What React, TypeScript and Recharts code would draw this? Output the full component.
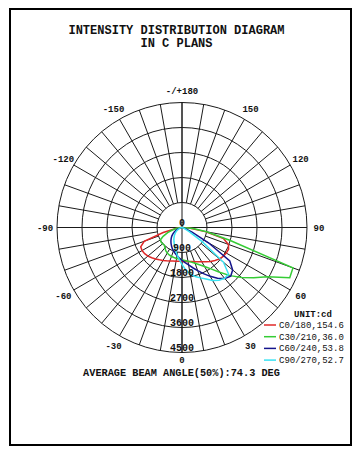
import React from 'react';
import { RadarChart, Radar, PolarGrid, PolarAngleAxis, PolarRadiusAxis, Legend } from 'recharts';

// gamma angles (deg) for the lower half of the diagram, 0 = straight down
const gammaAngles = [
  -90, -85, -80, -75, -70, -65, -60, -55, -50, -45, -40, -35, -30, -25, -20, -15, -10, -5,
  0, 5, 10, 15, 20, 25, 30, 35, 40, 45, 50, 55, 60, 65, 70, 75, 80, 85, 90,
];

// intensities (cd)
const c0Values = [
  0, 80, 250, 700, 1450, 1640, 1660, 1640, 1600, 1540, 1480, 1420, 1370, 1320, 1280, 1250, 1230, 1220,
  1220, 1225, 1240, 1270, 1310, 1360, 1420, 1510, 1600, 1680, 1760, 1810, 1840, 1850, 1780, 1550, 850, 300, 0,
];
const c30Values = [
  0, 100, 220, 380, 550, 750, 900, 920, 910, 900, 950, 1020, 1060, 1090, 1110, 1120, 1130, 1140,
  1160, 1190, 1230, 1290, 1370, 1480, 1620, 1820, 2100, 2450, 2800, 3150, 3550, 4280, 4250, 1800, 900, 400, 0,
];
const c60Values = [
  0, 0, 30, 80, 150, 230, 320, 400, 480, 550, 620, 690, 760, 830, 900, 960, 1030, 1100,
  1180, 1270, 1370, 1500, 1650, 1830, 2030, 2230, 2400, 2480, 2380, 2100, 1100, 400, 150, 60, 20, 0, 0,
];
const c90Values = [
  0, 0, 20, 50, 90, 140, 200, 260, 320, 380, 440, 510, 580, 660, 760, 870, 1000, 1150,
  1330, 1530, 1700, 1830, 1930, 2050, 2200, 2320, 2390, 2370, 1950, 900, 300, 100, 30, 0, 0, 0, 0,
];

const seriesKeys = ['c0', 'c30', 'c60', 'c90'];
const seriesNames = ['C0/180,154.6', 'C30/210,36.0', 'C60/240,53.8', 'C90/270,52.7'];
const seriesColors = ['#e02828', '#35cc35', '#14148c', '#38e2f2'];
const seriesValues = [c0Values, c30Values, c60Values, c90Values];

const radiusTicks = [0, 900, 1800, 2700, 3600, 4500];
const angleLabelValues = [0, 30, 60, 90, 120, 150, 180, -150, -120, -90, -60, -30];
const angleLabelTexts = ['0', '30', '60', '90', '120', '150', '-/+180', '-150', '-120', '-90', '-60', '-30'];

const titleLines = ['INTENSITY DISTRIBUTION DIAGRAM', 'IN C PLANS'];
const beamText = 'AVERAGE BEAM ANGLE(50%):74.3 DEG';
const unitText = 'UNIT:cd';

// full circle table, 5 degree steps, going clockwise on screen from the bottom
// (0 -> -90 on the left -> 180 on top -> 90 on the right); upper half is empty (0)
const data = Array.from({ length: 72 }, (_, i) => {
  const g = i < 36 ? -5 * i : 360 - 5 * i;
  const idx = gammaAngles.indexOf(g);
  const row: Record<string, number> = { angle: g };
  seriesKeys.forEach((k, s) => {
    row[k] = idx >= 0 ? seriesValues[s][idx] : 0;
  });
  return row;
});

const gridAngles = Array.from({ length: 36 }, (_, k) => -90 + k * 10);
const ringRadii = [25, 50, 75, 100, 125];

const FONT = '"Liberation Mono", "Courier New", monospace';
const W = 359;
const H = 458;
const CX = 182;
const CY = 227.5;

const renderAngleTick = (props: any) => {
  const { x, y, payload } = props;
  const v = payload?.value;
  const idx = angleLabelValues.indexOf(v);
  if (idx < 0) return <g />;
  const ny = v === 0 ? y - 5 : y;
  return (
    <text x={x} y={ny} dy="0.35em" textAnchor="middle" fontFamily={FONT} fontSize={9} fontWeight="bold" fill="#111">
      {angleLabelTexts[idx]}
    </text>
  );
};

const renderRadiusTick = (props: any) => {
  const { x, y, payload } = props;
  return (
    <text x={x} y={y - 1.5} textAnchor="middle" fontFamily={FONT} fontSize={10} fontWeight="bold" fill="#111">
      {payload?.value}
    </text>
  );
};

const renderLegend = (props: any) => {
  const payload = props.payload || [];
  return (
    <svg width={100} height={64} style={{ display: 'block', overflow: 'visible' }}>
      <text x={55} y={12} textAnchor="middle" fontFamily={FONT} fontSize={9} fontWeight="bold" fill="#111">
        {unitText}
      </text>
      {payload.map((p: any, i: number) => {
        const cy = 20 + i * 11.7;
        return (
          <g key={i}>
            <line x1={6} x2={18} y1={cy} y2={cy} stroke={p.color} strokeWidth={1.5} />
            <text x={21} y={cy + 3} fontFamily={FONT} fontSize={9} fill="#111">
              {p.value}
            </text>
          </g>
        );
      })}
    </svg>
  );
};

const margin0 = { top: 0, right: 0, bottom: 0, left: 0 };

export default function App() {
  return (
    <div style={{ position: 'absolute', left: 0, top: 0, width: W, height: H, background: '#fff', overflow: 'hidden' }}>
      <div
        style={{
          position: 'absolute',
          left: 9,
          top: 8,
          width: 343,
          height: 438,
          border: '2px solid #000',
          boxSizing: 'border-box',
        }}
      />
      <div
        style={{
          position: 'absolute',
          left: 0,
          top: 25,
          width: 353,
          textAlign: 'center',
          fontFamily: FONT,
          fontWeight: 'bold',
          fontSize: 12,
          lineHeight: '13px',
          color: '#111',
          whiteSpace: 'pre',
        }}
      >
        {titleLines.map((t, i) => (
          <div key={i}>{t}</div>
        ))}
      </div>

      <div style={{ position: 'absolute', left: 0, top: 0 }}>
        <RadarChart
          width={W}
          height={H}
          data={data}
          cx={CX}
          cy={CY}
          innerRadius={25}
          outerRadius={125}
          startAngle={270}
          endAngle={-90}
          margin={margin0}
        >
          <PolarGrid gridType="circle" polarAngles={gridAngles} polarRadius={ringRadii} stroke="#1a1a1a" strokeWidth={1} />
        </RadarChart>
      </div>

      <div style={{ position: 'absolute', left: 0, top: 0 }}>
        <RadarChart
          width={W}
          height={H}
          data={data}
          cx={CX}
          cy={CY}
          innerRadius={0}
          outerRadius={125}
          startAngle={270}
          endAngle={-90}
          margin={margin0}
        >
          <PolarGrid gridType="circle" polarAngles={[-90, 0, 90, 180]} polarRadius={[]} stroke="#1a1a1a" strokeWidth={1} />
          <PolarAngleAxis dataKey="angle" tick={renderAngleTick} tickLine={false} axisLine={false} tickSize={12} />
          <PolarRadiusAxis
            angle={-90}
            domain={[0, 4500]}
            ticks={radiusTicks}
            tickCount={6}
            tick={renderRadiusTick}
            axisLine={false}
            tickLine={false}
          />
          {seriesKeys.map((k, i) => (
            <Radar
              key={k}
              dataKey={k}
              name={seriesNames[i]}
              stroke={seriesColors[i]}
              strokeWidth={1.5}
              fill="none"
              fillOpacity={0}
              dot={false}
              isAnimationActive={false}
            />
          ))}
          <Legend
            content={renderLegend}
            layout="horizontal"
            verticalAlign="middle"
            align="center"
            wrapperStyle={{ position: 'absolute', left: 258, top: 305, width: 100, height: 64 }}
          />
        </RadarChart>
      </div>

      <div
        style={{
          position: 'absolute',
          left: 0,
          top: 368,
          width: 363,
          textAlign: 'center',
          fontFamily: FONT,
          fontWeight: 'bold',
          fontSize: 10.25,
          lineHeight: '11px',
          color: '#111',
          whiteSpace: 'pre',
        }}
      >
        {beamText}
      </div>
    </div>
  );
}
